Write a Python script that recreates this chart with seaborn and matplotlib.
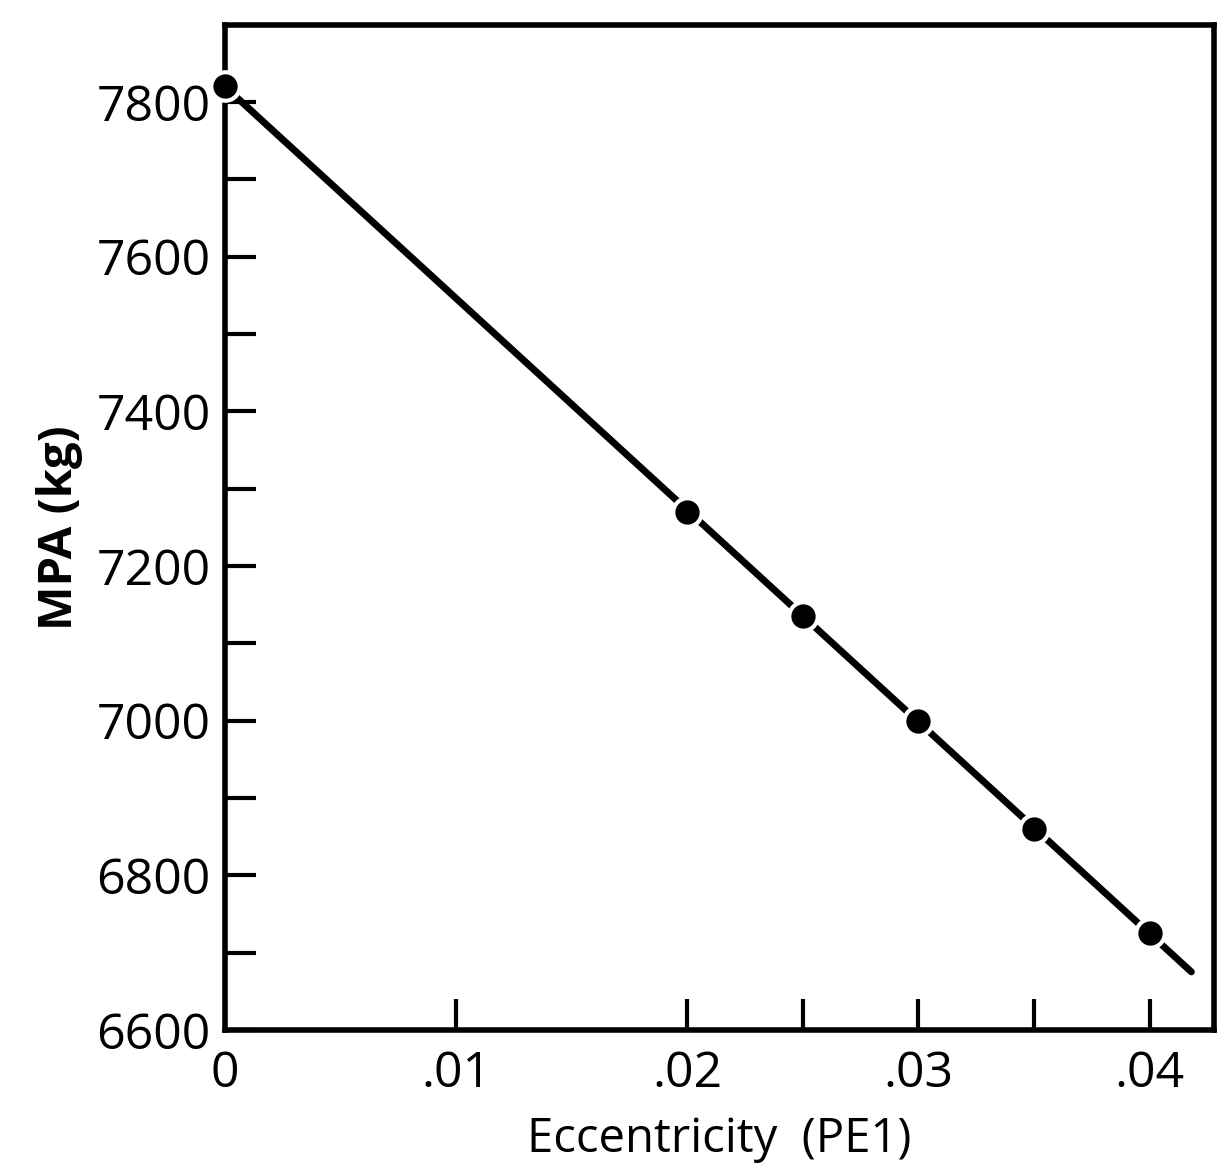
import numpy as np
import pandas as pd
import matplotlib
matplotlib.use("Agg")
import matplotlib.pyplot as plt
import seaborn as sns

# values
eccentricity = [0.0, 0.02, 0.025, 0.03, 0.035, 0.04]
mpa_kg = [7820, 7270, 7135, 7000, 6860, 6725]
# fitted line drawn through the points, running slightly past the last one
line_x = [0.0, 0.0418]
line_y = [7820, 6675]

x_ticks = [0.0, 0.01, 0.02, 0.025, 0.03, 0.035, 0.04]
x_labels = ["0", ".01", ".02", "", ".03", "", ".04"]
y_major = [6600, 6800, 7000, 7200, 7400, 7600, 7800]

sns.set_style("ticks")
plt.rcParams["font.family"] = ["Open Sans", "DejaVu Sans"]
plt.rcParams["text.color"] = "black"
plt.rcParams["axes.labelcolor"] = "black"
plt.rcParams["xtick.color"] = "black"
plt.rcParams["ytick.color"] = "black"

df_pts = pd.DataFrame({"ecc": eccentricity, "mpa": mpa_kg})
df_line = pd.DataFrame({"ecc": line_x, "mpa": line_y})

fig = plt.figure(figsize=(12.28, 11.69), dpi=100)
ax = fig.add_axes([0.183, 0.119, 0.806, 0.860])

sns.lineplot(data=df_line, x="ecc", y="mpa", ax=ax, color="black", linewidth=5,
             solid_capstyle="round")
sns.scatterplot(data=df_pts, x="ecc", y="mpa", ax=ax, color="black", s=420,
                edgecolor="white", linewidth=3, zorder=5, clip_on=False)

ax.set_xlim(0, 0.0428)
ax.set_ylim(6600, 7900)

ax.set_xticks(x_ticks)
ax.set_xticklabels(x_labels)
ax.set_yticks(y_major)
ax.set_yticks(np.arange(6700, 7900, 200), minor=True)

ax.tick_params(axis="both", which="both", direction="in", length=22, width=3,
               labelsize=36, pad=10, colors="black")
ax.tick_params(axis="x", pad=14)

for s in ax.spines.values():
    s.set_linewidth(4)
    s.set_color("black")

ax.set_xlabel("Eccentricity  (PE1)", fontsize=34, labelpad=12)
ax.set_ylabel("MPA (kg)", fontsize=34, fontweight="bold", labelpad=10)

fig.savefig("out.png", dpi=100, facecolor="white")
